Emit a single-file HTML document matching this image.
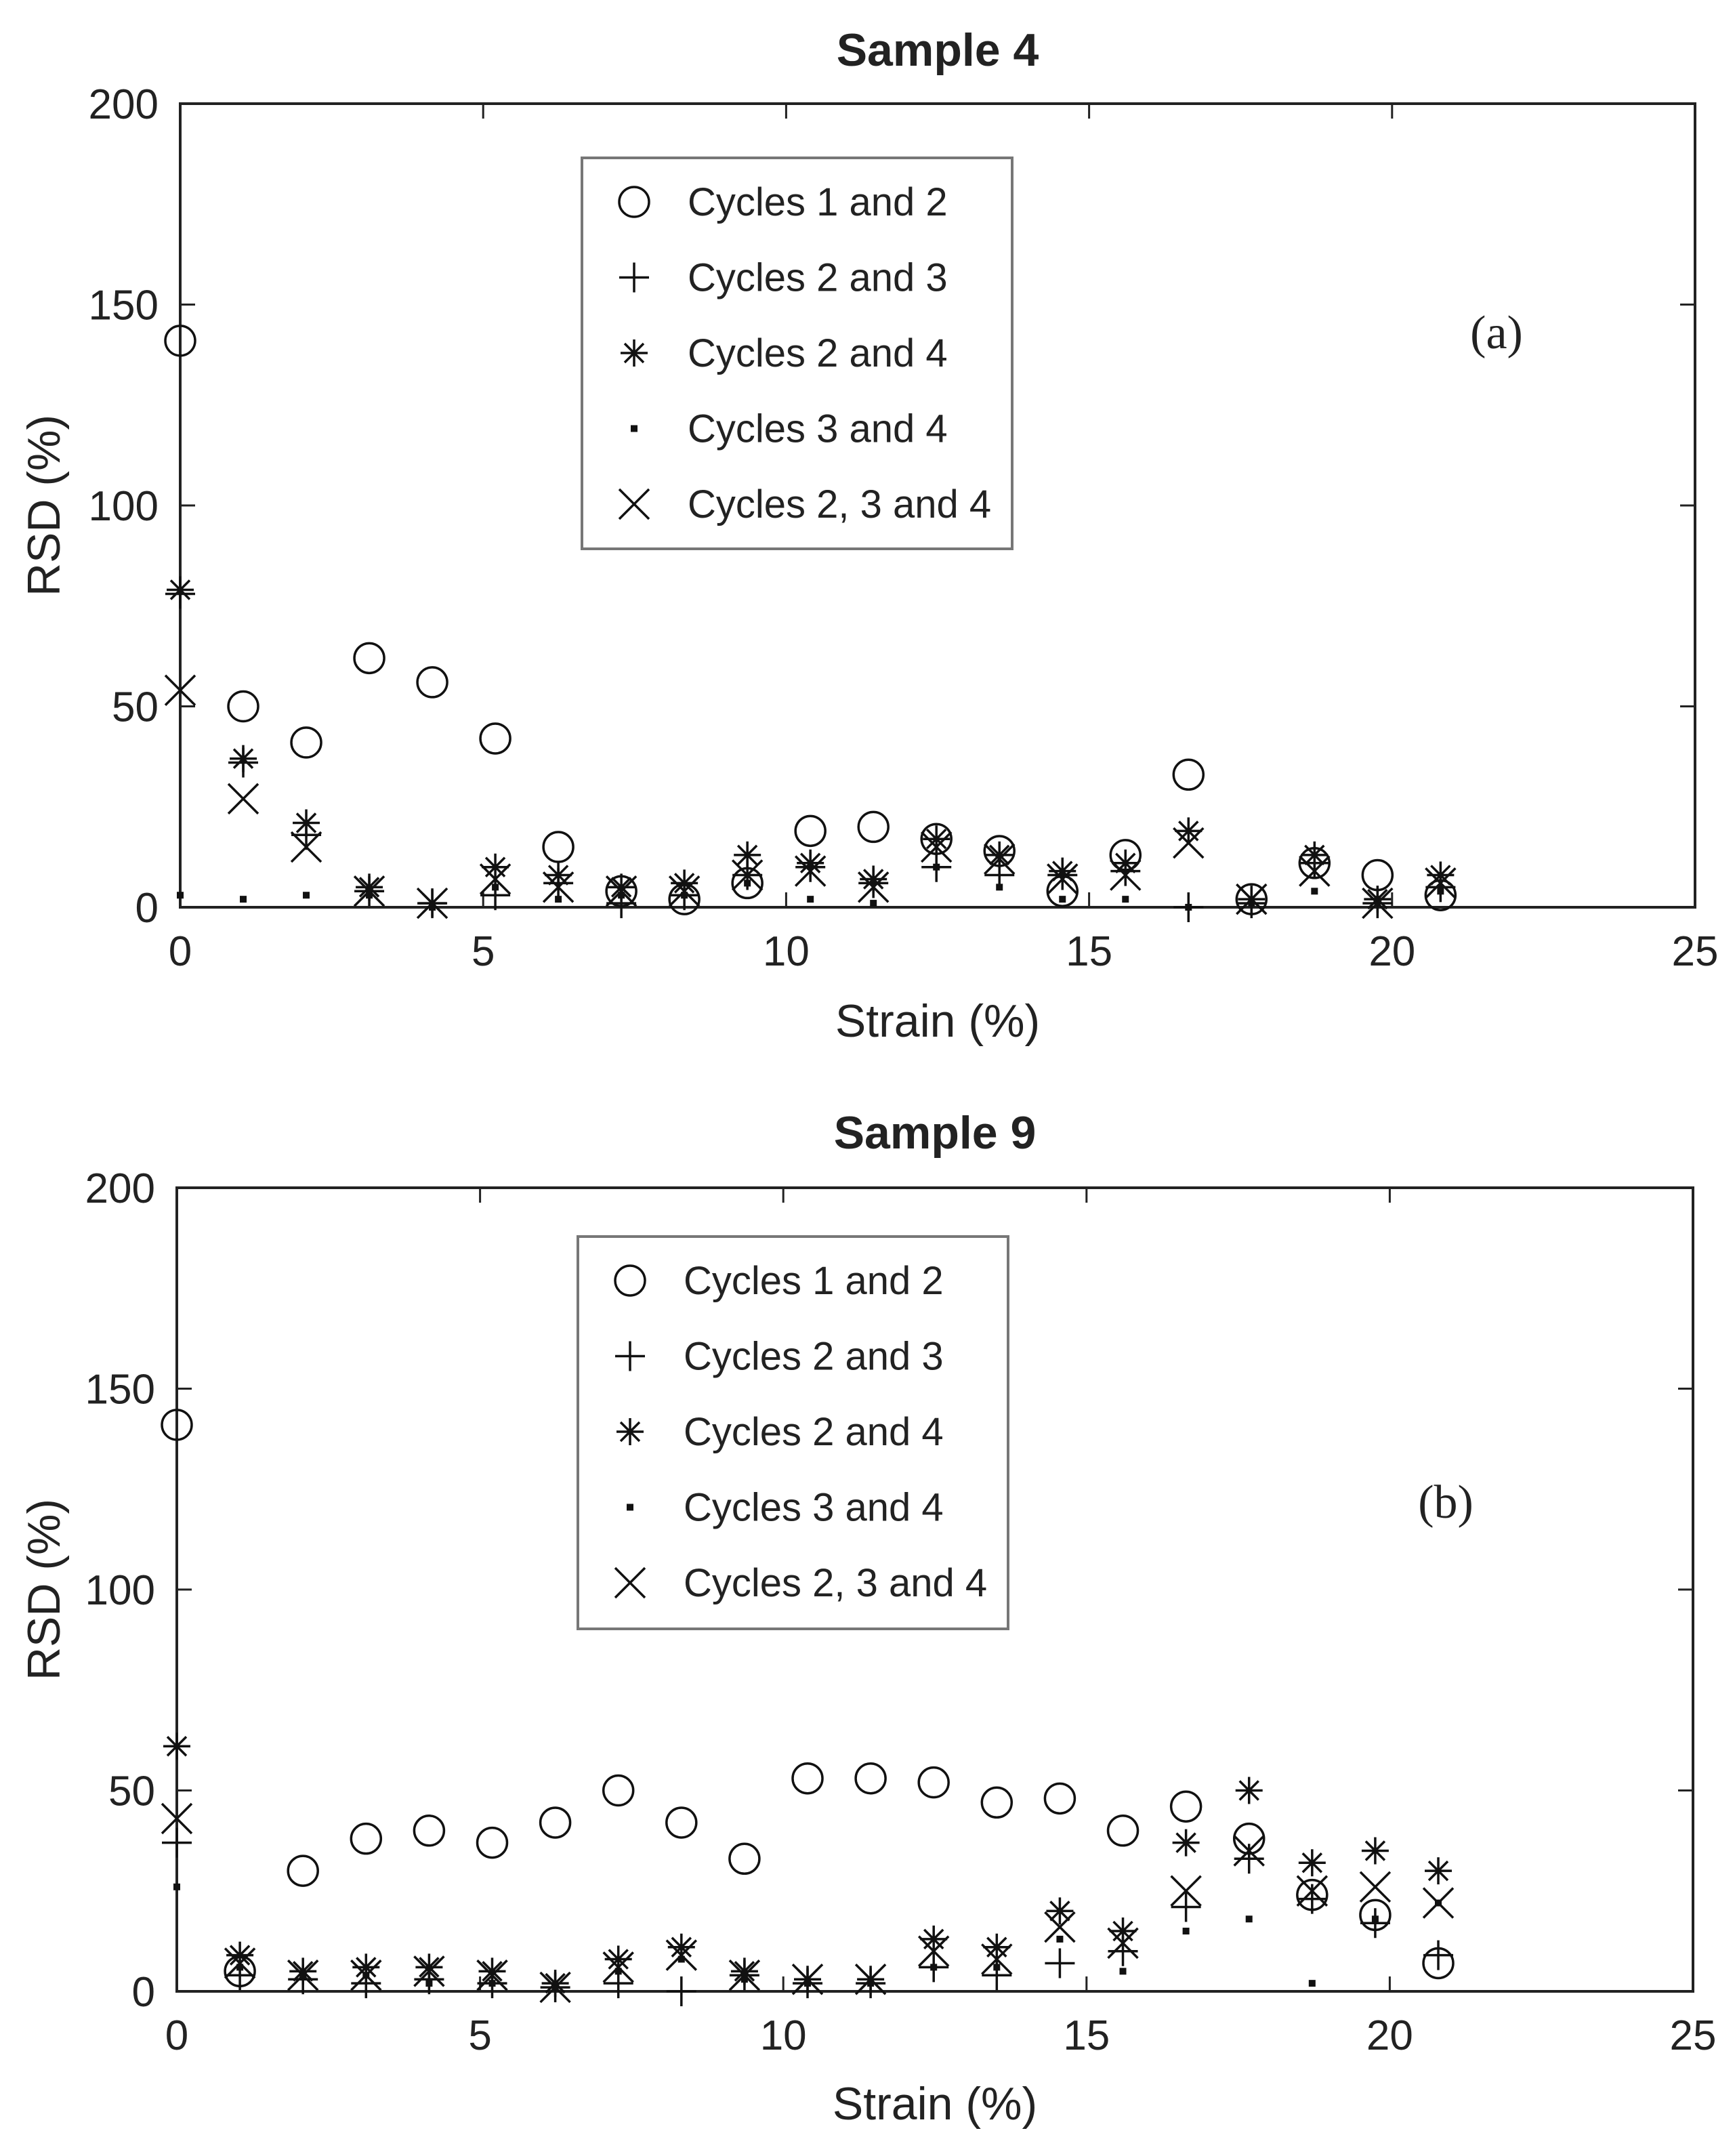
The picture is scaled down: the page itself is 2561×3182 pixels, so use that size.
<!DOCTYPE html>
<html><head><meta charset="utf-8"><style>
html,body{margin:0;padding:0;background:#fff;}
svg{display:block;}
text{font-family:"Liberation Sans",sans-serif;fill:#222;}
</style></head><body>
<svg id="c" width="2561" height="3182" viewBox="0 0 2561 3182" xmlns="http://www.w3.org/2000/svg"></svg>
<script>
const strain = [0,1.04,2.08,3.12,4.16,5.2,6.24,7.28,8.32,9.36,10.4,11.44,12.48,13.52,14.56,15.6,16.64,17.68,18.72,19.76,20.8];
const xTicks = [0,5,10,15,20,25];
const yTicks = [0,50,100,150,200];
const seriesNames = ["Cycles 1 and 2","Cycles 2 and 3","Cycles 2 and 4","Cycles 3 and 4","Cycles 2, 3 and 4"];
const s4c12 = [141,50,41,62,56,42,15,4,2,6,19,20,17,14,4,13,33,2,11,8,3];
const s4c23 = [78,36,18,4,1,3,6,1,3,8,10,6,10,8,8,9,0,1,11,1,5];
const s4c24 = [79,37,21,5,1,10,8,5,6,13,11,7,17,13,9,11,19,2,13,2,8];
const s4c34 = [3,2,3,3,0,5,2,3,3,6,2,1,10,5,2,2,0,1,4,2,4];
const s4c234 = [54,27,15,4,1,7,5,4,4,8,9,5,15,12,7,8,16,2,9,1,6];
const s9c12 = [141,5,30,38,40,37,42,50,42,33,53,53,52,47,48,40,46,38,24,19,7];
const s9c23 = [37,4,3,2,3,2,1,2,0,4,2,2,6,4,7,10,21,33,23,17,9];
const s9c24 = [61,9,5,6,6,5,2,8,11,5,3,3,13,11,20,15,37,50,32,35,30];
const s9c34 = [26,6,4,4,2,2,1,5,8,3,2,2,6,6,13,5,15,18,2,18,22];
const s9c234 = [43,7,4,4,5,4,1,6,9,4,3,3,10,8,16,12,25,35,25,26,22];

const NS="http://www.w3.org/2000/svg";
const svg=document.getElementById('c');
function mk(tag,attrs,parent){const e=document.createElementNS(NS,tag);for(const k in attrs)e.setAttribute(k,attrs[k]);(parent||svg).appendChild(e);return e;}

function marker(g,type,cx,cy){
  const st={stroke:'#111','stroke-width':3.5,fill:'none'};
  let e;
  if(type===0){e=mk('circle',Object.assign({cx:cx,cy:cy,r:22},st),g);}
  else if(type===1){e=mk('path',Object.assign({d:`M${cx-22},${cy}H${cx+22}M${cx},${cy-22}V${cy+22}`},st),g);}
  else if(type===2){const r=20,d=14;e=mk('path',Object.assign({d:`M${cx-r},${cy}H${cx+r}M${cx},${cy-r}V${cy+r}M${cx-d},${cy-d}L${cx+d},${cy+d}M${cx-d},${cy+d}L${cx+d},${cy-d}`},st),g);}
  else if(type===3){e=mk('rect',{x:cx-5,y:cy-5,width:10,height:10,fill:'#111'},g);}
  else {const d=22;e=mk('path',Object.assign({d:`M${cx-d},${cy-d}L${cx+d},${cy+d}M${cx-d},${cy+d}L${cx+d},${cy-d}`},st),g);}
  return e;
}

function plot(cfg){
  const {L,T,R,B,title,titleY,xlabY,series,tag,tagX,tagY,leg,name}=cfg;
  const g=mk('g',{});
  
  
  const sx=v=>L+(v/25)*(R-L), sy=v=>B-(v/200)*(B-T);
  const t=mk('text',{x:(L+R)/2,y:titleY,'text-anchor':'middle','font-size':68,'font-weight':'bold'},g);
  t.textContent=title;
  
  
  const ax=mk('rect',{x:L,y:T,width:R-L,height:B-T,fill:'none',stroke:'#222','stroke-width':4},g);
  
  
  xTicks.forEach(v=>{
    const x=sx(v);
    mk('line',{x1:x,y1:B,x2:x,y2:B-22,stroke:'#222','stroke-width':3},g);
    mk('line',{x1:x,y1:T,x2:x,y2:T+22,stroke:'#222','stroke-width':3},g);
    const tx=mk('text',{x:x,y:B+86,'text-anchor':'middle','font-size':62},g);
    tx.textContent=v;
    
    
  });
  yTicks.forEach(v=>{
    const y=sy(v);
    mk('line',{x1:L,y1:y,x2:L+22,y2:y,stroke:'#222','stroke-width':3},g);
    mk('line',{x1:R,y1:y,x2:R-22,y2:y,stroke:'#222','stroke-width':3},g);
    const ty=mk('text',{x:L-32,y:y+22,'text-anchor':'end','font-size':62},g);
    ty.textContent=v;
    
    
  });
  const xl=mk('text',{x:(L+R)/2,y:xlabY,'text-anchor':'middle','font-size':68},g);
  xl.textContent='Strain (%)';
  
  
  const yc=(T+B)/2;
  const yl=mk('text',{x:88,y:yc,'text-anchor':'middle','font-size':68,transform:`rotate(-90 88 ${yc})`},g);
  yl.textContent='RSD (%)';
  
  
  series.forEach((arr,si)=>{
    const sg=mk('g',{},g);
    
    
    arr.forEach((v,i)=>{
      const m=marker(sg,si,sx(strain[i]),sy(v));
      
      
    });
  });
  const lg=mk('g',{},g);
  
  
  mk('rect',{x:leg[0],y:leg[1],width:leg[2],height:leg[3],fill:'#fff',stroke:'#777','stroke-width':4},lg);
  seriesNames.forEach((n,i)=>{
    const ry=leg[1]+65+i*111.5;
    const m=marker(lg,i,leg[0]+77,ry);
    
    
    const lt=mk('text',{x:leg[0]+156,y:ry+20,'font-size':58},lg);
    lt.textContent=n;
    
    
  });
  const tg=mk('text',{x:tagX,y:tagY,'text-anchor':'middle','font-size':70,style:'font-family:"Liberation Serif",serif'},g);
  tg.textContent=tag;
  
  
}

plot({name:'plot-sample-4',L:266,T:153,R:2502,B:1339,title:'Sample 4',titleY:97,xlabY:1530,
  series:[s4c12,s4c23,s4c24,s4c34,s4c234],tag:'(a)',tagX:2209,tagY:514,leg:[859,233,635,577]});
plot({name:'plot-sample-9',L:261,T:1753,R:2499,B:2939,title:'Sample 9',titleY:1695,xlabY:3128,
  series:[s9c12,s9c23,s9c24,s9c34,s9c234],tag:'(b)',tagX:2134,tagY:2240,leg:[853,1825,635,579]});
</script>
</body></html>
